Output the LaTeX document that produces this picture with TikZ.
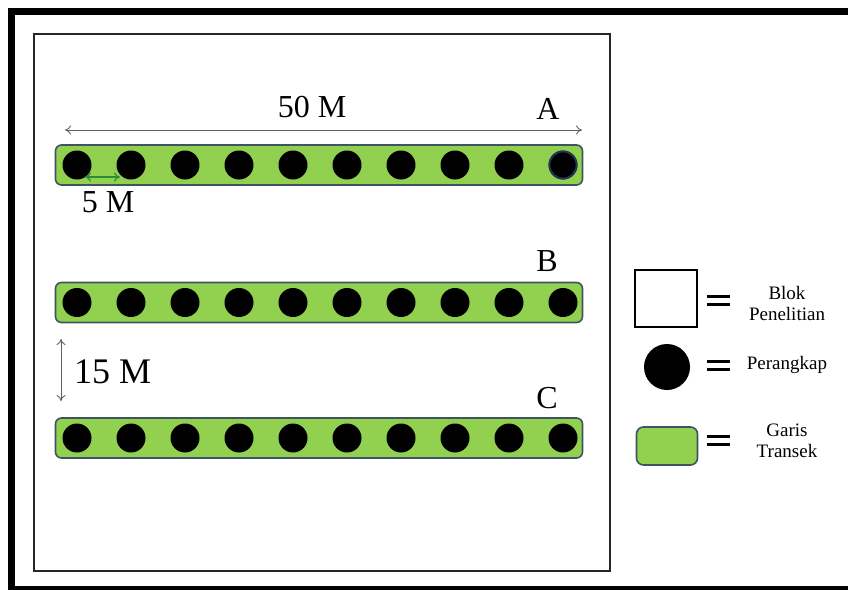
\documentclass[tikz,border=0pt]{standalone}
\usepackage{fontspec}
\setmainfont{Liberation Serif}
\usetikzlibrary{arrows.meta}
\definecolor{hijaumuda}{RGB}{146,208,80}
\definecolor{tepi}{RGB}{62,84,96}
\definecolor{panah}{RGB}{95,95,95}
\definecolor{hijautua}{RGB}{45,140,60}
\tikzset{
  transek/.style={draw=tepi, line width=1.6pt, fill=hijaumuda, rounded corners=6pt,
    minimum width=527pt, minimum height=40pt, inner sep=0pt},
  trap/.style={circle, fill=black, inner sep=0pt, minimum size=29pt},
  ukur/.style={draw=panah, line width=0.9pt, {To[length=6pt,width=9pt]}-{To[length=6pt,width=9pt]}},
  tulisan/.style={inner sep=0pt, anchor=base, font=\fontsize{32}{36}\selectfont},
  ket/.style={inner sep=0pt, align=center, font=\fontsize{19}{21}\selectfont},
  samadengan/.style={line width=3pt}
}

\begin{document}
\begin{tikzpicture}[x=1pt,y=-1pt]
\useasboundingbox (0,0) rectangle (848,589);
\clip (0,0) rectangle (848,589);
% bingkai luar dan blok penelitian
\draw[line width=7pt] (11.5,595) -- (11.5,11.5) -- (860,11.5);
\draw[line width=4pt] (11.5,587.5) -- (860,587.5);
\draw[line width=2pt, black!85] (33.5,34) rectangle (609.5,571);

% garis transek A, B, C
\node[transek] (A) at (319,165) {};
\node[transek] (B) at (319,302.5) {};
\node[transek] (C) at (319,438) {};
\foreach \t/\y in {A/165,B/302.5,C/438}
  \foreach \i in {1,...,10}
    \node[trap] (\t\i) at ({77+54*(\i-1)},\y) {};
\draw[line width=1.8pt, draw={rgb,255:red,30;green,55;blue,95}] (A10) circle (13.5pt);

\node[tulisan] (hA) at (548,119) {A};
\node[tulisan] (hB) at (547,271) {B};
\node[tulisan] (hC) at (547,408) {C};

% ukuran
\coordinate (kiri) at (65,130);
\coordinate (kanan) at (582,130);
\draw[ukur] (kiri) -- (kanan);
\node[tulisan] (jarak50) at (312,117) {50 M};

\coordinate (p1) at (85,177);
\coordinate (p2) at (120,177);
\draw[ukur, draw=hijautua, line width=1.2pt] (p1) -- (p2);
\node[tulisan] (jarak5) at (108,212) {5 M};

\coordinate (atas) at (61,339);
\coordinate (bawah) at (61,401);
\draw[ukur] (atas) -- (bawah);
\node[tulisan, anchor=base west, font=\fontsize{36}{40}\selectfont] (jarak15) at (74,383) {15 M};

% keterangan
\node[draw, line width=2pt, minimum width=62pt, minimum height=57pt, inner sep=0pt] (kotak) at (666,298) {};
\node[trap, minimum size=46pt] (bulat) at (667,367) {};
\node[transek, minimum width=61pt, minimum height=38pt, rounded corners=7pt] (garis) at (667,446) {};
\foreach \y in {300,365,440}{
  \draw[samadengan] (707,\y-4) -- (730,\y-4);
  \draw[samadengan] (707,\y+4) -- (730,\y+4);
}
\node[ket] (k1) at (787,303) {Blok\\Penelitian};
\node[ket] (k2) at (787,365) {Perangkap};
\node[ket] (k3) at (787,441) {Garis\\Transek};
\end{tikzpicture}
\end{document}
